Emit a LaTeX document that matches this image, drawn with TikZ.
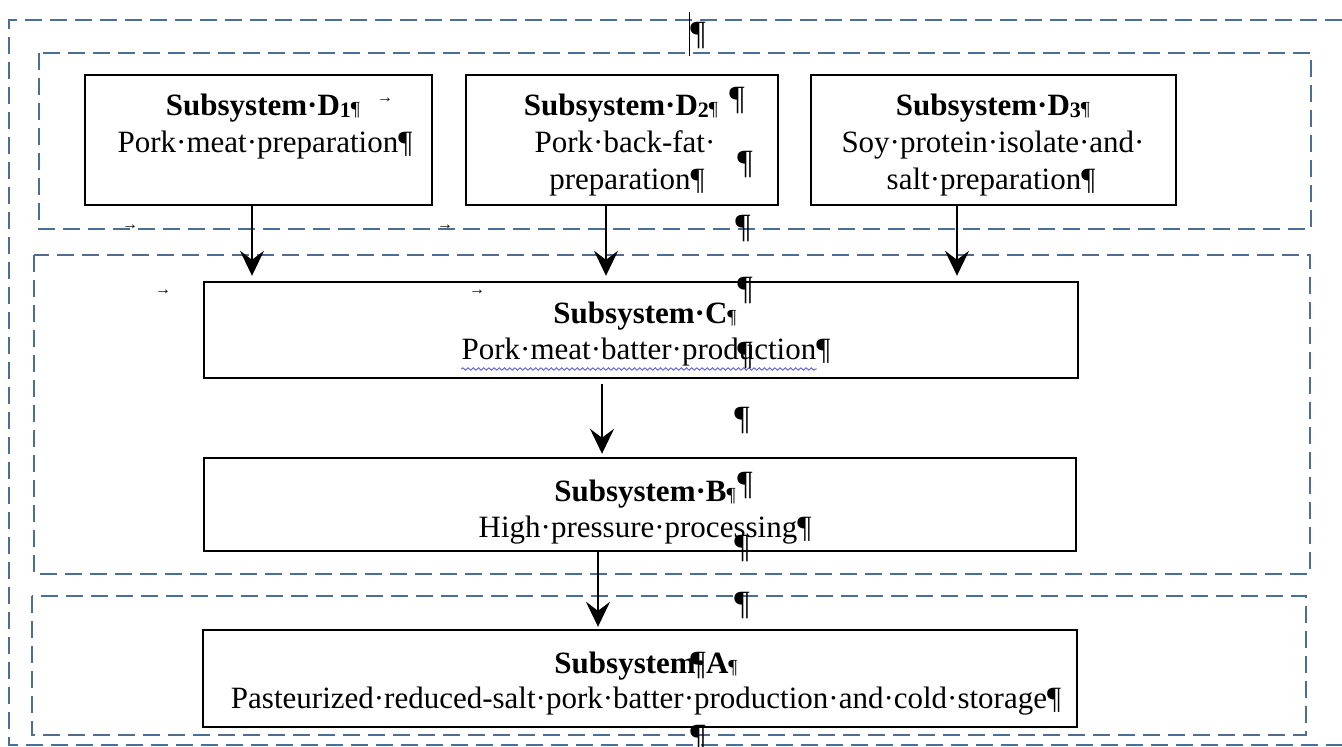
\documentclass[tikz,border=0pt]{standalone}
\usepackage{fontspec}
\setmainfont{Liberation Serif}
\usetikzlibrary{arrows.meta,fit,decorations.pathmorphing}
\definecolor{regblue}{RGB}{74,110,150}
\definecolor{wavyblue}{RGB}{95,95,215}
\newcommand\mysub[1]{\raisebox{-1pt}{\fontsize{11}{11}\selectfont #1}}
\newcommand\mypil{{\fontsize{10}{10}\selectfont\mdseries ¶}}
\begin{document}
\begin{tikzpicture}[x=0.5pt,y=-0.5pt,
  region/.style={draw=regblue, line width=1.2pt, dash pattern=on 8.5pt off 4pt},
  box/.style={draw=black, line width=1.2pt, inner sep=0pt},
  arr/.style={-{Stealth[length=12.5pt,width=12pt,inset=4.5pt]}, line width=1.1pt},
  lbl/.style={font=\fontsize{15.5}{18.5}\selectfont, inner sep=0pt, anchor=base},
  hdr/.style={font=\fontsize{15.5}{18.5}\selectfont\bfseries, inner sep=0pt, anchor=base},
  pil/.style={font=\fontsize{17}{17}\selectfont, inner sep=0pt},
  tabmark/.style={font=\fontsize{8}{8}\selectfont\bfseries, inner sep=0pt},
  wavy/.style={draw=wavyblue, line width=0.45pt, decorate, decoration={snake, amplitude=0.6pt, segment length=2.6pt}}]
\fill[white] (0,0) rectangle (1342,747);
\path[use as bounding box] (0,0) rectangle (1342,747);

% dashed subsystem regions
\draw[region] (1342,20) -- (9,20) -- (9,745) -- (1342,745);
\draw[region] (39,53) rectangle (1311,229);
\draw[region] (34,255) rectangle (1310,574);
\draw[region] (32,596) rectangle (1306,735);

% boxes
\node[box, fit={(85,75)(432,205)}] (d1) {};
\node[box, fit={(466,75)(778,205)}] (d2) {};
\node[box, fit={(811,75)(1176,205)}] (d3) {};
\node[box, fit={(204,282)(1078,378)}] (c) {};
\node[box, fit={(204,458)(1076,551)}] (b) {};
\node[box, fit={(203,630)(1077,727)}] (a) {};

% texts
\node[hdr] (d1t1) at (263,116) {Subsystem·D\mysub{1}\mypil};
\node[lbl] (d1t2) at (265,153) {Pork·meat·preparation¶};
\node[hdr] (d2t1) at (621,116) {Subsystem·D\mysub{2}\mypil};
\node[lbl] (d2t2) at (625,153) {Pork·back-fat·};
\node[lbl] (d2t3) at (627,190) {preparation¶};
\node[hdr] (d3t1) at (993,116) {Subsystem·D\mysub{3}\mypil};
\node[lbl] (d3t2) at (993,153) {Soy·protein·isolate·and·};
\node[lbl] (d3t3) at (991,190) {salt·preparation¶};
\node[hdr] (c1) at (645,324) {Subsystem·C\mypil};
\node[lbl] (c2) at (646,360) {Pork·meat·batter·production¶};
\node[hdr] (b1) at (645,502) {Subsystem·B\mypil};
\node[lbl] (b2) at (645,538) {High·pressure·processing¶};
\node[hdr] (a1) at (646,673) {Subsystem·A\mypil};
\node[lbl] (a2) at (646,708) {Pasteurized·reduced-salt·pork·batter·production·and·cold·storage¶};

\draw[wavy] ([yshift=-4.5pt]c2.base west) -- ([yshift=-4.5pt,xshift=-7pt]c2.base east);

% tab marks
\node[tabmark] (tm1) at (385,100) {→};
\node[tabmark] (tm2) at (130,227) {→};
\node[tabmark] (tm3) at (445,227) {→};
\node[tabmark] (tm4) at (163,292) {→};
\node[tabmark] (tm5) at (477,292) {→};

% stray paragraph marks
\node[pil] (p1) at (698,36) {¶};
\node[pil] (p2) at (737,101) {¶};
\node[pil] (p3) at (745,165) {¶};
\node[pil] (p4) at (743,229) {¶};
\node[pil] (p5) at (745,291) {¶};
\node[pil] (p6) at (745,356) {¶};
\node[pil] (p7) at (742,421) {¶};
\node[pil] (p8) at (745,486) {¶};
\node[pil] (p9) at (742,549) {¶};
\node[pil] (p10) at (742,606) {¶};
\node[pil] (p11) at (698,666) {¶};
\node[pil] (p12) at (698,739) {¶};
\draw[line width=0.4pt] (689,12) -- (689,56);

% connectors
\draw[arr, shorten >=2.5pt] (d1.south -| 252,0) -- (c.north -| 252,0);
\draw[arr, shorten >=2.5pt] (d2.south -| 606,0) -- (c.north -| 606,0);
\draw[arr, shorten >=2.5pt] (d3.south -| 957,0) -- (c.north -| 957,0);
\draw[arr, shorten <=2.5pt, shorten >=1.5pt] (c.south -| 602,0) -- (b.north -| 602,0);
\draw[arr, shorten >=1pt] (b.south -| 598,0) -- (a.north -| 598,0);
\end{tikzpicture}
\end{document}
